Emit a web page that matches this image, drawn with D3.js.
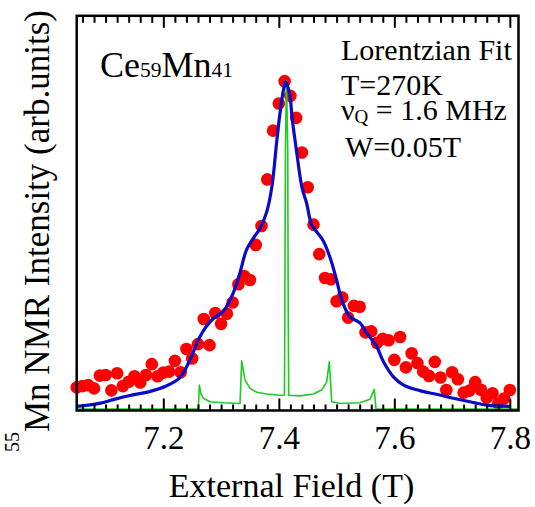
<!DOCTYPE html>
<html>
<head>
<meta charset="utf-8">
<script src="https://cdn.jsdelivr.net/npm/d3@7"></script>
<style>
  html, body { margin: 0; padding: 0; background: #fff; }
  svg { display: block; }
  svg text, svg tspan { font-family: "Liberation Serif", serif !important; fill: #000; }
</style>
</head>
<body>
<svg id="chart" width="535" height="507" font-family="Liberation Serif"></svg>
<script>
// Measured 55Mn NMR spectrum (field in T, normalised intensity)
const dataField = [
  7.05, 7.06, 7.07, 7.08, 7.09, 7.10, 7.11, 7.12, 7.13, 7.14,
  7.15, 7.16, 7.17, 7.18, 7.19, 7.20, 7.21, 7.22, 7.23, 7.24,
  7.25, 7.26, 7.27, 7.28, 7.29, 7.30, 7.31, 7.32, 7.33, 7.34,
  7.35, 7.36, 7.37, 7.38, 7.39, 7.40, 7.41, 7.42, 7.43, 7.44,
  7.45, 7.46, 7.47, 7.48, 7.49, 7.50, 7.51, 7.52, 7.53, 7.54,
  7.55, 7.56, 7.57, 7.58, 7.59, 7.60, 7.61, 7.62, 7.63, 7.64,
  7.65, 7.66, 7.67, 7.68, 7.69, 7.70, 7.71, 7.72, 7.73, 7.74,
  7.75, 7.76, 7.77, 7.78, 7.79, 7.80
];
const dataIntensity = [
  0.066, 0.070, 0.073, 0.063, 0.102, 0.104, 0.057, 0.109, 0.070, 0.083,
  0.100, 0.081, 0.104, 0.137, 0.100, 0.111, 0.114, 0.147, 0.112, 0.183,
  0.154, 0.198, 0.275, 0.195, 0.293, 0.260, 0.291, 0.325, 0.381, 0.406,
  0.394, 0.501, 0.559, 0.701, 0.850, 0.933, 1.001, 0.956, 0.889, 0.783,
  0.677, 0.563, 0.473, 0.400, 0.396, 0.329, 0.340, 0.279, 0.315, 0.312,
  0.234, 0.237, 0.202, 0.214, 0.210, 0.150, 0.220, 0.127, 0.170, 0.140,
  0.114, 0.101, 0.144, 0.096, 0.058, 0.112, 0.091, 0.050, 0.056, 0.082,
  0.059, 0.035, 0.048, 0.017, 0.032, 0.058
];

// Lorentzian fit curve
const fitField = [
  7.050, 7.089, 7.118, 7.147, 7.176, 7.205, 7.228, 7.239, 7.251, 7.262,
  7.274, 7.287, 7.304, 7.321, 7.333, 7.344, 7.356, 7.367, 7.379, 7.388,
  7.396, 7.402, 7.408, 7.412, 7.419, 7.423, 7.431, 7.440, 7.448, 7.457,
  7.466, 7.477, 7.489, 7.500, 7.509, 7.523, 7.541, 7.552, 7.569, 7.581,
  7.598, 7.616, 7.644, 7.673, 7.702, 7.731, 7.760, 7.800
];
const fitIntensity = [
  0.008, 0.017, 0.031, 0.043, 0.053, 0.070, 0.094, 0.124, 0.170, 0.216,
  0.251, 0.277, 0.299, 0.354, 0.418, 0.486, 0.522, 0.550, 0.602, 0.679,
  0.811, 0.903, 0.974, 0.999, 0.959, 0.889, 0.783, 0.677, 0.629, 0.562,
  0.540, 0.513, 0.461, 0.394, 0.333, 0.282, 0.262, 0.232, 0.192, 0.145,
  0.099, 0.073, 0.056, 0.045, 0.033, 0.022, 0.012, 0.008
];

// Simulated quadrupolar powder pattern
const simField = [
  7.0500, 7.2606, 7.2623, 7.2652, 7.2692, 7.2808, 7.3039, 7.3328, 7.3357, 7.3414,
  7.3501, 7.3617, 7.3790, 7.4020, 7.4097, 7.4105, 7.4114, 7.4133, 7.4154, 7.4162,
  7.4171, 7.4367, 7.4597, 7.4742, 7.4829, 7.4874, 7.4916, 7.5059, 7.5406, 7.5579,
  7.5653, 7.5683, 7.8150
];
const simIntensity = [
  0.000, 0.000, 0.073, 0.046, 0.033, 0.022, 0.019, 0.017, 0.147, 0.089,
  0.063, 0.051, 0.046, 0.042, 0.042, 0.333, 0.791, 1.002, 0.791, 0.333,
  0.042, 0.040, 0.046, 0.058, 0.083, 0.144, 0.022, 0.017, 0.019, 0.030,
  0.060, 0.000, 0.000
];

const xMajorTicks = [7.2, 7.4, 7.6, 7.8];
const xMinorTicks = [
  7.06, 7.08, 7.10, 7.12, 7.14, 7.16, 7.18, 7.22, 7.24, 7.26, 7.28, 7.30,
  7.32, 7.34, 7.36, 7.38, 7.42, 7.44, 7.46, 7.48, 7.50, 7.52, 7.54, 7.56,
  7.58, 7.62, 7.64, 7.66, 7.68, 7.70, 7.72, 7.74, 7.76, 7.78
];

const serif = "Liberation Serif";
const svg = d3.select("#chart");
const frameL = 76.7, frameR = 518.5, frameT = 15.8, frameB = 410.5;

const x = d3.scaleLinear().domain([7.05, 7.815]).range([frameL, frameR]);
const y = d3.scaleLinear().domain([0, 1.2]).range([409, 16]);

const pts = dataField.map((f, i) => ({ f, v: dataIntensity[i] }));
const fit = fitField.map((f, i) => ({ f, v: fitIntensity[i] }));
const sim = simField.map((f, i) => ({ f, v: simIntensity[i] }));

// data points
svg.append("g").selectAll("circle").data(pts).join("circle")
  .attr("cx", d => x(d.f)).attr("cy", d => y(d.v)).attr("r", 6.3)
  .attr("fill", "#ff0000");

// simulated spectrum
svg.append("path").datum(sim)
  .attr("d", d3.line().x(d => x(d.f)).y(d => y(d.v)))
  .attr("fill", "none").attr("stroke", "#1ecb1e").attr("stroke-width", 1.6)
  .attr("stroke-linejoin", "round");

// fit
svg.append("path").datum(fit)
  .attr("d", d3.line().curve(d3.curveCatmullRom.alpha(0.5)).x(d => x(d.f)).y(d => y(d.v)))
  .attr("fill", "none").attr("stroke", "#0a0ac8").attr("stroke-width", 3.2)
  .attr("stroke-linejoin", "round");

// axes with inward ticks
function tickStyle(g) {
  g.attr("font-family", serif);
  g.select(".domain").remove();
  g.selectAll(".tick line").attr("stroke", "#000").attr("stroke-width", 2);
}
svg.append("g").attr("transform", `translate(0,${frameB})`)
  .call(d3.axisBottom(x).tickValues(xMinorTicks).tickSize(-6).tickFormat(""))
  .call(tickStyle);
const bx = svg.append("g").attr("transform", `translate(0,${frameB})`)
  .call(d3.axisBottom(x).tickValues(xMajorTicks).tickSize(-12).tickPadding(15).tickFormat(d3.format(".1f")))
  .call(tickStyle)
  .attr("font-size", 33);
bx.selectAll(".tick text").attr("font-family", serif).attr("fill", "#000");
svg.append("g").attr("transform", `translate(0,${frameT})`)
  .call(d3.axisTop(x).tickValues(xMinorTicks).tickSize(-7).tickFormat(""))
  .call(tickStyle);
svg.append("g").attr("transform", `translate(0,${frameT})`)
  .call(d3.axisTop(x).tickValues(xMajorTicks).tickSize(-12).tickFormat(""))
  .call(tickStyle);

// frame
svg.append("rect").attr("x", frameL).attr("y", frameT)
  .attr("width", frameR - frameL).attr("height", frameB - frameT)
  .attr("fill", "none").attr("stroke", "#000").attr("stroke-width", 2.5);

// axis titles
svg.append("text").attr("x", 291.5).attr("y", 496.7).attr("text-anchor", "middle")
  .attr("font-family", serif).attr("font-size", 34).text("External Field (T)");

const yl = svg.append("text").attr("transform", "translate(49,452) rotate(-90)")
  .attr("font-family", serif).attr("font-size", 35);
yl.append("tspan").attr("dy", -30).attr("font-size", 20).text("55");
yl.append("tspan").attr("dy", 30).text("Mn NMR Intensity (arb.units)");

// annotations
const comp = svg.append("text").attr("x", 100).attr("y", 76.7).attr("font-family", serif);
comp.append("tspan").attr("font-size", 36).text("Ce");
comp.append("tspan").attr("font-size", 21.5).text("59");
comp.append("tspan").attr("font-size", 36).text("Mn");
comp.append("tspan").attr("font-size", 21.5).text("41");

const note = (tx, ty) => svg.append("text").attr("x", tx).attr("y", ty)
  .attr("font-family", serif).attr("font-size", 30);
note(341, 60).text("Lorentzian Fit");
note(341, 95).text("T=270K");
const nq = note(341, 120);
nq.append("tspan").text("ν");
nq.append("tspan").attr("dy", 3).attr("font-size", 19).text("Q");
nq.append("tspan").attr("dy", -3).text(" = 1.6 MHz");
note(345, 156.7).text("W=0.05T");
</script>
</body>
</html>
